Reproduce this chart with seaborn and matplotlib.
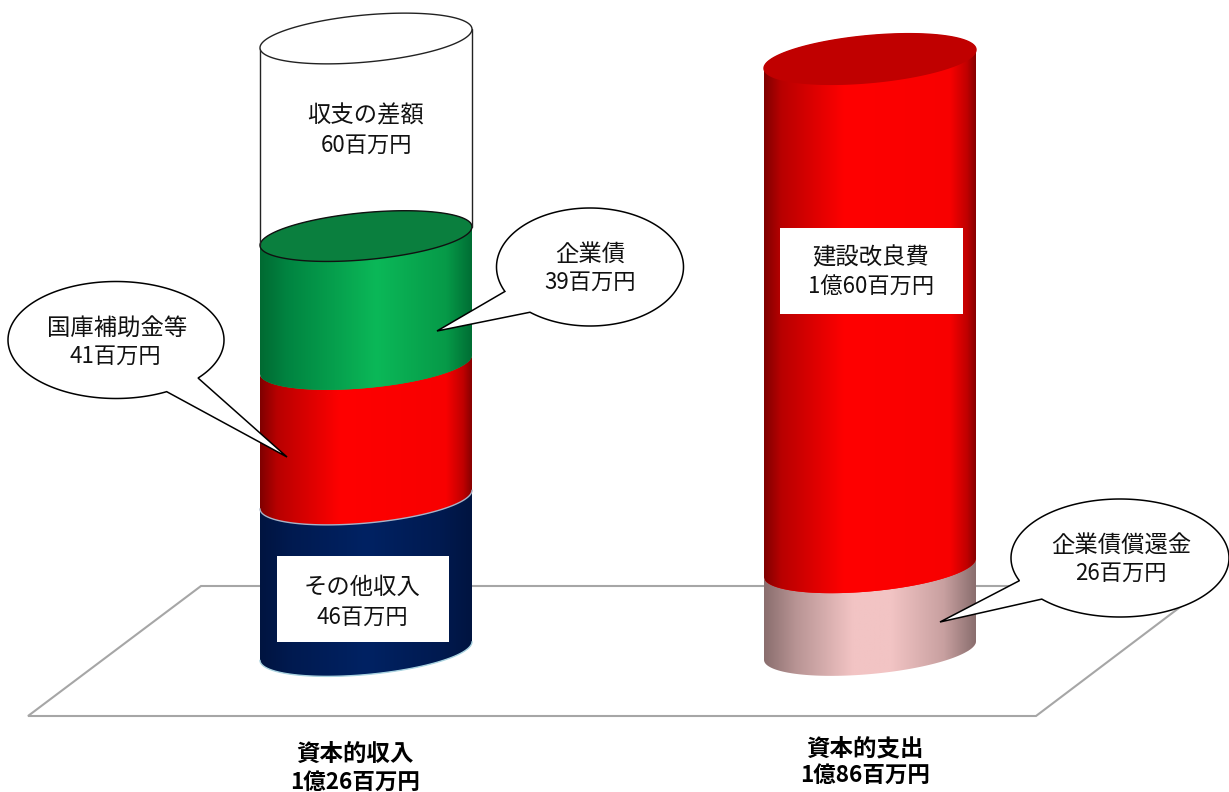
import numpy as np
import matplotlib
matplotlib.use("Agg")
import matplotlib.pyplot as plt
import seaborn as sns
from matplotlib.colors import LinearSegmentedColormap
from matplotlib.patches import Polygon, Rectangle

sns.set_theme(style="white")
plt.rcParams["font.family"] = ["Noto Sans CJK JP", "DejaVu Sans"]

# Amounts in millions of yen
income_labels = ["その他収入", "国庫補助金等", "企業債", "収支の差額"]
income_values = [46, 41, 39, 60]
expense_labels = ["企業債償還金", "建設改良費"]
expense_values = [26, 160]
income_title = "資本的収入"
expense_title = "資本的支出"
income_total = 126
expense_total = 186

W, H = 1229, 792
THETA = np.linspace(0, np.pi, 121)

# Horizontal shading of each cylinder band (position across the width, colour)
RED = [(0, "#800000"), (.08, "#b80000"), (.38, "#ff0000"), (.88, "#f80000"), (.96, "#c00000"), (1, "#880000")]
NAVY = [(0, "#001440"), (.15, "#001a50"), (.5, "#002263"), (.85, "#001a50"), (1, "#001440")]
GREEN = [(0, "#006a32"), (.12, "#008340"), (.55, "#0bb858"), (.88, "#069a48"), (1, "#006e34")]
PINK = [(0, "#8a6e6e"), (.15, "#b89494"), (.42, "#f2c4c4"), (.6, "#f2c4c4"), (.85, "#c8a0a0"), (1, "#8a6e6e")]


def yen(value):
    if value >= 100:
        return f"1億{value - 100}百万円"
    return f"{value}百万円"


def full_axes(fig, zorder):
    ax = fig.add_axes([0, 0, 1, 1], zorder=zorder)
    ax.patch.set_alpha(0)
    return ax


def rim(level, tilt, depth, theta):
    """Points on the tilted elliptical rim of a cylinder at a given level."""
    return 0.5 * np.cos(theta), level + tilt * np.cos(theta) - depth * np.sin(theta)


def draw_cylinder(ax, center, base_px, top_px, values, shades, caps, edge_colors):
    total = sum(values)
    scale = (base_px - top_px) / total
    span = 212
    tilt, depth = 9.3 / scale, 23.6 / scale
    tops = np.cumsum(values)
    x0, x1 = -center / span, (W - center) / span
    y0, y1 = (base_px - H) / scale, base_px / scale

    lower = 0
    for i, top in enumerate(tops):
        shade = shades[i]
        sns.barplot(x=["c"], y=[top], ax=ax, width=1.0, saturation=1,
                    color=shade[2][1] if shade else "white", zorder=2 + i)
        bar = ax.patches[-1]
        bar_top = bar.get_height()
        xa, ya = rim(lower, tilt, depth, THETA[::-1])
        xb, yb = rim(bar_top, tilt, depth, np.pi + THETA[::-1])
        body = Polygon(np.column_stack([np.r_[xa, xb], np.r_[ya, yb]]), transform=ax.transData)
        if shade:
            bar.set_clip_path(body)
            cmap = LinearSegmentedColormap.from_list("band", shade)
            img = ax.imshow(np.linspace(0, 1, 256)[None, :], cmap=cmap, aspect="auto",
                            extent=(-0.5, 0.5, lower - 3 * depth, bar_top + 3 * depth),
                            interpolation="bilinear", zorder=2 + i + 0.1)
            img.set_clip_path(body)
            if edge_colors[i]:
                ax.plot(xa, ya, color=edge_colors[i], lw=1.0, zorder=2 + i + 0.2)
        else:
            bar.set_visible(False)
            for side in (-0.5, 0.5):
                ax.plot([side, side],
                        [lower + 2 * side * tilt, bar_top + 2 * side * tilt],
                        color="#222222", lw=1.0, zorder=2 + i + 0.2)
        cap = caps[i]
        if cap:
            face, line = cap
            xc, yc = rim(bar_top, tilt, depth, np.linspace(0, 2 * np.pi, 241))
            ax.add_patch(Polygon(np.column_stack([xc, yc]), closed=True, facecolor=face,
                                 edgecolor=line, lw=1.0, zorder=2 + i + 0.5))
        lower = bar_top
    ax.set_xlim(x0, x1)
    ax.set_ylim(y0, y1)
    ax.axis("off")


def callout(ax, cx, cy, a, b, attach_1, attach_2, tip):
    """Speech bubble: an ellipse whose outline opens into a pointed tail."""
    ang1 = np.arctan2((attach_1[1] - cy) / b, (attach_1[0] - cx) / a)
    ang2 = np.arctan2((attach_2[1] - cy) / b, (attach_2[0] - cx) / a)
    if ang2 < ang1:
        ang2 += 2 * np.pi
    arc = np.linspace(ang2, ang1 + 2 * np.pi, 240)
    pts = np.column_stack([cx + a * np.cos(arc), cy + b * np.sin(arc)])
    pts = np.vstack([pts, tip])
    ax.add_patch(Polygon(pts, closed=True, facecolor="white", edgecolor="black", lw=1.1, zorder=5))


def two_lines(ax, x, y1, y2, first, second, x2=None, size=(16.8, 16.0), **kws):
    ax.text(x, y1 + 1, first, ha="center", va="center", zorder=7, fontsize=size[0], **kws)
    ax.text(x if x2 is None else x2, y2 + 1, second, ha="center", va="center", zorder=7,
            fontsize=size[1], **kws)


fig = plt.figure(figsize=(W / 100, H / 100), dpi=100, facecolor="white")

# Floor of the chart, behind the cylinders
floor_ax = full_axes(fig, 0)
floor_ax.set_xlim(0, W)
floor_ax.set_ylim(H, 0)
floor_ax.axis("off")
floor_ax.add_patch(Polygon([(201, 586), (1208, 586), (1036, 716), (28, 716)], closed=True,
                           facecolor="white", edgecolor="#a6a6a6", lw=1.5))

# Income cylinder
ax_in = full_axes(fig, 1)
draw_cylinder(ax_in, 366, 651, 38.5, income_values,
              [NAVY, RED, GREEN, None],
              [None, None, ("#0a7f3e", "#111111"), ("white", "#222222")],
              ["#a9d3e0", "#a8b4c8", None, None])

# Expense cylinder
ax_out = full_axes(fig, 2)
draw_cylinder(ax_out, 870, 650.5, 59, expense_values,
              [PINK, RED],
              [None, ("#c00000", "#c00000")],
              [None, None])

# Callouts, label boxes and captions
note_ax = full_axes(fig, 3)
note_ax.set_xlim(0, W)
note_ax.set_ylim(H, 0)
note_ax.axis("off")

callout(note_ax, 116, 340, 108, 58.5, (198, 378), (167, 392), (287, 457))
callout(note_ax, 590, 267, 93.5, 59, (525, 316), (503, 292), (437, 331))
callout(note_ax, 1120, 558, 109, 59, (1042, 599), (1018, 581), (940, 622))

note_ax.add_patch(Rectangle((277, 556), 172, 86, facecolor="white", edgecolor="none", zorder=5))
note_ax.add_patch(Rectangle((780, 228), 183, 86, facecolor="white", edgecolor="none", zorder=5))

TXT = dict(color="#111111")
two_lines(note_ax, 362, 586, 616, income_labels[0], yen(income_values[0]), **TXT)
two_lines(note_ax, 117, 327, 355, income_labels[1], yen(income_values[1]), x2=115, **TXT)
two_lines(note_ax, 590, 253, 281, income_labels[2], yen(income_values[2]), **TXT)
two_lines(note_ax, 366, 115, 144, income_labels[3], yen(income_values[3]), **TXT)
two_lines(note_ax, 871, 257, 286, expense_labels[1], yen(expense_values[1]), **TXT)
two_lines(note_ax, 1121, 545, 572, expense_labels[0], yen(expense_values[0]), **TXT)

HEAD = dict(color="black", fontweight="bold")
two_lines(note_ax, 355, 753, 781, income_title, yen(income_total), size=(16.9, 16.2), **HEAD)
two_lines(note_ax, 865, 747, 774, expense_title, yen(expense_total), size=(16.9, 16.2), **HEAD)

fig.savefig("out.png", dpi=100, facecolor="white")
